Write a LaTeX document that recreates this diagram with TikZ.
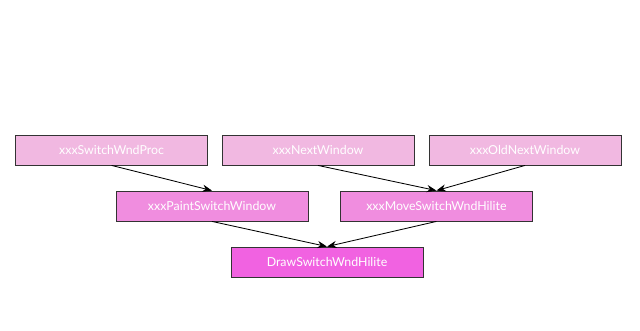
\documentclass[tikz,border=0pt]{standalone}
\usepackage{fontspec}
\setmainfont{Lato}
\usepackage{tikz}
\usetikzlibrary{arrows.meta}

\definecolor{pinkA}{HTML}{F1B8E1}
\definecolor{pinkB}{HTML}{F08DDF}
\definecolor{pinkC}{HTML}{F162E1}
\definecolor{edge}{HTML}{333333}

\tikzset{
  fn/.style={draw=edge,line width=0.6pt,minimum width=4.8cm,minimum height=0.75cm,
    inner sep=0pt,text=white,font=\fontsize{8.8}{10}\selectfont},
  call/.style={-{Stealth[length=2.4mm,width=1.8mm]},line width=0.6pt,black}
}

\begin{document}
\begin{tikzpicture}
  \useasboundingbox (0,0) rectangle (16,8.25);
  \node[fn,fill=pinkA] (proc) at (2.79,4.5) {xxxSwitchWndProc};
  \node[fn,fill=pinkA] (next) at (7.95,4.5) {xxxNextWindow};
  \node[fn,fill=pinkA] (oldnext) at (13.125,4.5) {xxxOldNextWindow};
  \node[fn,fill=pinkB] (paint) at (5.3,3.1) {xxxPaintSwitchWindow};
  \node[fn,fill=pinkB] (move) at (10.91,3.1) {xxxMoveSwitchWndHilite};
  \node[fn,fill=pinkC] (hilite) at (8.175,1.7) {DrawSwitchWndHilite};
  \draw[call] (proc.south) -- (paint.north);
  \draw[call] (next.south) -- (move.north);
  \draw[call] (oldnext.south) -- (move.north);
  \draw[call] (paint.south) -- (hilite.north);
  \draw[call] (move.south) -- (hilite.north);
\end{tikzpicture}
\end{document}
